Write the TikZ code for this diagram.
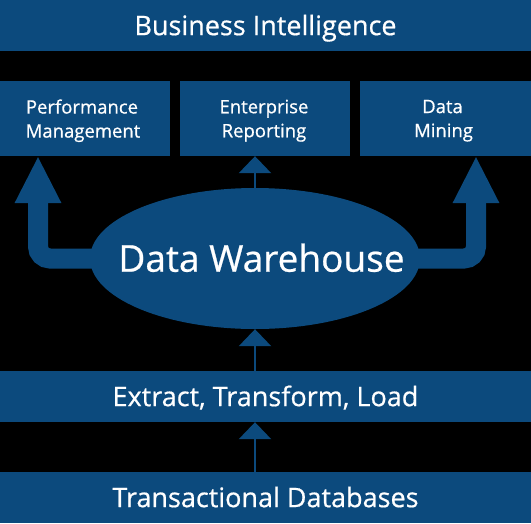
\documentclass[tikz,border=0pt]{standalone}
\usepackage{fontspec}
\setmainfont{Open Sans}[FakeBold=0.6]
\usetikzlibrary{shapes.geometric,arrows.meta}
\definecolor{dwblue}{RGB}{12,74,125}
\begin{document}
\begin{tikzpicture}[x=1pt,y=-1pt,
  box/.style={fill=dwblue,draw=none,text=white,inner sep=0pt,align=center,rectangle},
  bigtext/.style={font=\fontsize{27}{32}\selectfont,text height=19.3pt,text depth=0pt},
  midtext/.style={font=\fontsize{18.5}{24}\selectfont,text depth=0pt},
  bandtext/.style={font=\fontsize{27}{32}\selectfont,text height=19.3pt,text depth=0pt},
  bigarrow/.style={draw=dwblue,line width=20pt,rounded corners=12pt,
    -{Triangle[width=43pt,length=47pt]}},
  smallarrow/.style={draw=dwblue,line width=2.6pt,
    -{Triangle[width=32pt,length=17pt]}}]
\fill[black] (0,0) rectangle (531,523);
\useasboundingbox (0,0) rectangle (531,523);
% boxes
\node[box,bigtext,minimum width=531pt,minimum height=51pt] (bi) at (265.5,25.5) {Business Intelligence};
\node[box,midtext,minimum width=170pt,minimum height=75pt] (pm) at (85,118.5) {\hspace*{-6pt}Performance\\\hspace*{-4pt}Management};
\node[box,midtext,minimum width=170pt,minimum height=75pt] (er) at (265,118.5) {\hspace*{-2pt}Enterprise\\\hspace*{-2pt}Reporting};
\node[box,midtext,minimum width=171pt,minimum height=75pt] (dm) at (445.5,118.5) {\hspace*{-6pt}Data\\\hspace*{-4pt}Mining};
\node[box,bandtext,minimum width=531pt,minimum height=51pt] (etl) at (265.5,396.5) {Extract, Transform, Load};
\node[box,bandtext,minimum width=531pt,minimum height=51pt] (td) at (265.5,497.5) {Transactional Databases};
% big arrows (drawn before the ellipse)
\coordinate (pmtip) at (38,156);
\coordinate (dmtip) at (476,156);
\coordinate (dwc) at (255,258.5);
\draw[bigarrow] (dwc) -| (pmtip);
\draw[bigarrow] (dwc) -| (dmtip);
% ellipse
\node[ellipse,fill=dwblue,text=white,inner sep=0pt,minimum width=330pt,minimum height=141pt,
  font=\fontsize{37}{44}\selectfont,text height=26.4pt,text depth=0pt] (dw) at (dwc)
  {\makebox[0pt]{\hspace{13pt}Data Warehouse}};
% small arrows
\draw[smallarrow] (dw.north) -- (dw.north |- er.south);
\draw[smallarrow] (dw.south |- etl.north) -- (dw.south);
\draw[smallarrow] (dw.south |- td.north) -- (dw.south |- etl.south);
\end{tikzpicture}
\end{document}
